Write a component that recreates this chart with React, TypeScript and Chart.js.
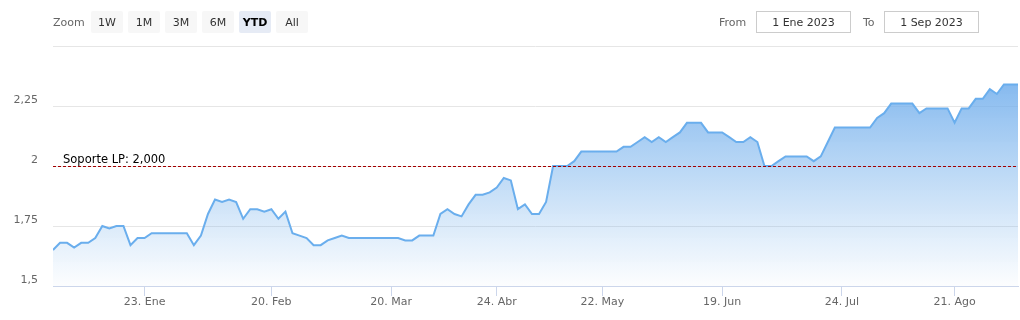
import React, { useEffect, useRef } from "react";
import { Chart, registerables } from "chart.js";

Chart.register(...registerables);

// Price series (one point per trading session, evenly spaced on the ordinal axis)
const prices: number[] = [
  1.65, 1.68, 1.68, 1.66, 1.68, 1.68, 1.70, 1.75, 1.74, 1.75,
  1.75, 1.67, 1.70, 1.70, 1.72, 1.72, 1.72, 1.72, 1.72, 1.72,
  1.67, 1.71, 1.80, 1.86, 1.85, 1.86, 1.85, 1.78, 1.82, 1.82,
  1.81, 1.82, 1.78, 1.81, 1.72, 1.71, 1.70, 1.67, 1.67, 1.69,
  1.70, 1.71, 1.70, 1.70, 1.70, 1.70, 1.70, 1.70, 1.70, 1.70,
  1.69, 1.69, 1.71, 1.71, 1.71, 1.80, 1.82, 1.80, 1.79, 1.84,
  1.88, 1.88, 1.89, 1.91, 1.95, 1.94, 1.82, 1.84, 1.80, 1.80,
  1.85, 2.00, 2.00, 2.00, 2.02, 2.06, 2.06, 2.06, 2.06, 2.06,
  2.06, 2.08, 2.08, 2.10, 2.12, 2.10, 2.12, 2.10, 2.12, 2.14,
  2.18, 2.18, 2.18, 2.14, 2.14, 2.14, 2.12, 2.10, 2.10, 2.12,
  2.10, 2.00, 2.00, 2.02, 2.04, 2.04, 2.04, 2.04, 2.02, 2.04,
  2.10, 2.16, 2.16, 2.16, 2.16, 2.16, 2.16, 2.20, 2.22, 2.26,
  2.26, 2.26, 2.26, 2.22, 2.24, 2.24, 2.24, 2.24, 2.18, 2.24,
  2.24, 2.28, 2.28, 2.32, 2.30, 2.34, 2.34, 2.34,
];

// X-axis tick positions (session index) and their labels
const xTickIndex: number[] = [13, 31, 48, 63, 78, 95, 112, 128];
const xTickLabels: string[] = ["23. Ene", "20. Feb", "20. Mar", "24. Abr", "22. May", "19. Jun", "24. Jul", "21. Ago"];

// Y-axis ticks
const yTicks: number[] = [1.5, 1.75, 2, 2.25, 2.5];
const yMin = 1.5;
const yMax = 2.5;

// Support line
const supportLevel = 2.0;
const supportLabel = "Soporte LP: 2,000";

// Range selector
const zoomButtons: string[] = ["1W", "1M", "3M", "6M", "YTD", "All"];
const selectedButton = "YTD";
const fromDate = "1 Ene 2023";
const toDate = "1 Sep 2023";

const FONT = "'DejaVu Sans', sans-serif";

const supportLinePlugin = {
  id: "supportLine",
  afterDatasetsDraw(chart: any) {
    const { ctx, chartArea } = chart;
    const y = Math.round(chart.scales.y.getPixelForValue(supportLevel)) + 0.5;
    ctx.save();
    ctx.beginPath();
    ctx.strokeStyle = "#a30000";
    ctx.lineWidth = 1;
    ctx.setLineDash([3, 2]);
    ctx.moveTo(chartArea.left, y);
    ctx.lineTo(chartArea.right, y);
    ctx.stroke();
    ctx.setLineDash([]);
    ctx.fillStyle = "#000000";
    ctx.font = `11.5px ${FONT}`;
    ctx.textAlign = "left";
    ctx.textBaseline = "alphabetic";
    ctx.fillText(supportLabel, chartArea.left + 10, y - 4);
    ctx.restore();
  },
};

export default function App() {
  const canvasRef = useRef<HTMLCanvasElement | null>(null);

  useEffect(() => {
    if (!canvasRef.current) return;
    const chart = new Chart(canvasRef.current, {
      type: "line",
      data: {
        datasets: [
          {
            data: prices.map((v, i) => ({ x: i, y: v })),
            borderColor: "#6aaeed",
            borderWidth: 2,
            pointRadius: 0,
            tension: 0,
            fill: "start",
            backgroundColor: (context: any) => {
              const { chart } = context;
              const { ctx, chartArea } = chart;
              if (!chartArea) return "rgba(124,181,236,0.4)";
              const g = ctx.createLinearGradient(0, chartArea.top, 0, chartArea.bottom);
              g.addColorStop(0, "rgba(110,172,236,1)");
              g.addColorStop(1, "rgba(124,181,236,0.02)");
              return g;
            },
          },
        ],
      },
      options: {
        responsive: false,
        animation: false,
        devicePixelRatio: 1,
        layout: { padding: { top: 46, right: 2, left: 0, bottom: 0 } },
        plugins: {
          legend: { display: false },
          tooltip: { enabled: false },
        },
        scales: {
          x: {
            type: "linear",
            min: 0,
            max: prices.length - 1,
            afterBuildTicks: (s: any) => {
              s.ticks = xTickIndex.map((v) => ({ value: v }));
            },
            afterFit: (s: any) => {
              s.height = 34;
            },
            ticks: {
              autoSkip: false,
              maxRotation: 0,
              padding: 0,
              color: "#666666",
              font: { size: 11, family: FONT },
              callback: (v: any) => {
                const k = xTickIndex.indexOf(Number(v));
                return k >= 0 ? xTickLabels[k] : "";
              },
            },
            grid: {
              drawOnChartArea: false,
              drawTicks: true,
              tickLength: 10,
              color: "#ccd6eb",
            },
            border: { color: "#ccd6eb" },
          },
          y: {
            type: "linear",
            min: yMin,
            max: yMax,
            afterBuildTicks: (s: any) => {
              s.ticks = yTicks.map((v) => ({ value: v }));
            },
            afterFit: (s: any) => {
              s.width = 53;
            },
            ticks: {
              padding: 15,
              labelOffset: -6,
              color: "#666666",
              font: { size: 11, family: FONT },
              callback: (v: any) => (Number(v) === yMax ? "" : String(v).replace(".", ",")),
            },
            grid: { color: "#e6e6e6", drawTicks: false },
            border: { display: false },
          },
        },
      },
      plugins: [supportLinePlugin],
    } as any);
    return () => chart.destroy();
  }, []);

  const btnStyle = (label: string, i: number): React.CSSProperties => ({
    position: "absolute",
    left: 91 + i * 37,
    top: 11,
    width: 32,
    height: 22,
    borderRadius: 2,
    background: label === selectedButton ? "#e6ebf5" : "#f7f7f7",
    color: label === selectedButton ? "#000000" : "#333333",
    fontWeight: label === selectedButton ? "bold" : "normal",
    fontSize: 11,
    display: "flex",
    alignItems: "center",
    justifyContent: "center",
  });

  const boxStyle = (left: number): React.CSSProperties => ({
    position: "absolute",
    left,
    top: 11,
    width: 95,
    height: 22,
    boxSizing: "border-box",
    border: "1px solid #cccccc",
    color: "#333333",
    fontSize: 11,
    display: "flex",
    alignItems: "center",
    justifyContent: "center",
  });

  const labelStyle = (left: number): React.CSSProperties => ({
    position: "absolute",
    left,
    top: 11,
    height: 22,
    color: "#666666",
    fontSize: 11,
    display: "flex",
    alignItems: "center",
  });

  return (
    <div
      style={{
        position: "absolute",
        left: 0,
        top: 0,
        width: 1020,
        height: 320,
        background: "#ffffff",
        fontFamily: FONT,
        overflow: "hidden",
      }}
    >
      <canvas ref={canvasRef} width={1020} height={320} style={{ position: "absolute", left: 0, top: 0 }} />
      <div style={labelStyle(53)}>Zoom</div>
      {zoomButtons.map((b, i) => (
        <div key={b} style={btnStyle(b, i)}>
          {b}
        </div>
      ))}
      <div style={labelStyle(719)}>From</div>
      <div style={boxStyle(756)}>{fromDate}</div>
      <div style={labelStyle(863)}>To</div>
      <div style={boxStyle(884)}>{toDate}</div>
    </div>
  );
}
